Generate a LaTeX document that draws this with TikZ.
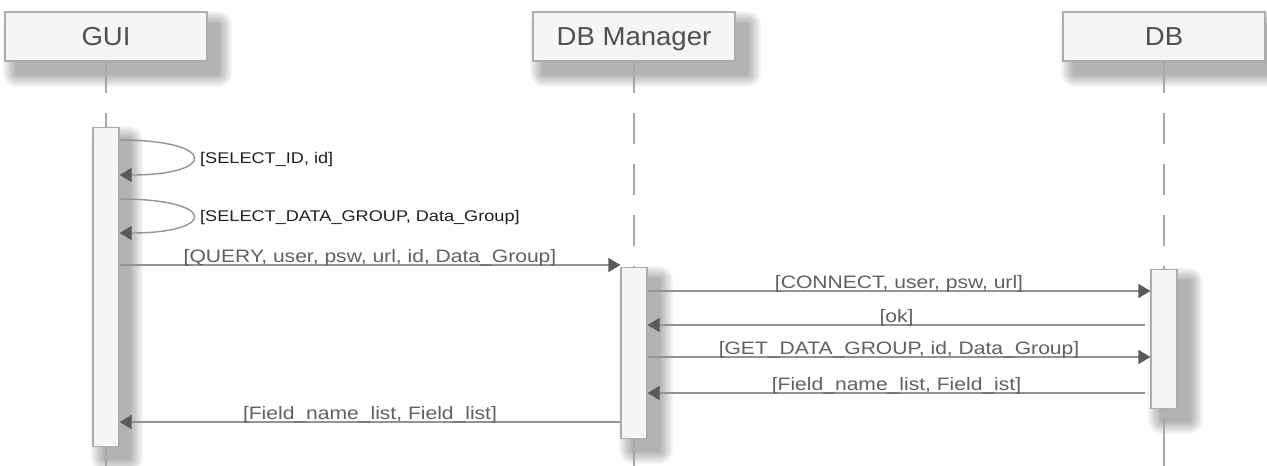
\documentclass[tikz,border=0pt]{standalone}
\usepackage{fontspec}
\setmainfont{Liberation Sans}
\newfontfamily\hdrfont[FakeStretch=1.06]{Liberation Sans}
\newfontfamily\msgfont[FakeStretch=1.17]{Liberation Sans}
\usetikzlibrary{arrows.meta,calc}

\definecolor{boxfill}{HTML}{F5F5F5}
\definecolor{boxline}{HTML}{ADADAD}
\definecolor{hdrtext}{HTML}{505050}
\definecolor{msgtext}{HTML}{606060}
\definecolor{selftext}{HTML}{1E1E1E}
\definecolor{wire}{HTML}{939393}
\definecolor{tipgray}{HTML}{5A5A5A}
\definecolor{lifegray}{HTML}{A8A8A8}

% soft drop shadow falling down and to the right:
% stacked translucent rectangles, each a little larger
\newcommand{\softshade}[4]{%
  \foreach \s in {1,...,10}{%
    \pgfmathsetmacro{\rr}{1.4*\s}
    \fill[black, opacity=0.036, rounded corners=\rr pt]
      (#1+12-\rr, #2+13-\rr) rectangle (#3+11+\rr, #4+12+\rr);
  }}

\tikzset{
  header/.style={draw=boxline, fill=boxfill, line width=1.2pt,
    minimum width=202pt, minimum height=49pt, inner sep=0pt,
    text=hdrtext, font=\hdrfont\fontsize{26}{30}\selectfont,
    text height=18.5pt, text depth=0pt},
  actbar/.style={draw=boxline, fill=boxfill, line width=1.2pt,
    minimum width=26pt, inner sep=0pt, anchor=north},
  life/.style={draw=lifegray, line width=1.5pt},
  lifedash/.style={life, dash pattern=on 31pt off 20pt},
  msg/.style={draw=wire, line width=1.4pt,
    -{Triangle[length=12pt, width=14pt, color=tipgray]}},
  msglbl/.style={anchor=base, yshift=3pt, inner sep=0pt, text=msgtext,
    font=\msgfont\fontsize{18}{21}\selectfont},
  selflbl/.style={anchor=base west, inner sep=0pt, text=selftext,
    font=\msgfont\fontsize{15.5}{18}\selectfont},
}

\begin{document}
\begin{tikzpicture}[x=1pt, y=-1pt]
  \useasboundingbox (0,0) rectangle (1267,466);
  \coordinate (bottom) at (0,466);

  % shadows under headers and activation bars
  \softshade{5}{12}{207}{61}
  \softshade{532}{12}{736}{61}
  \softshade{1063}{12}{1265}{61}
  \softshade{93}{127}{118}{446}
  \softshade{621}{267}{648}{438}
  \softshade{1150}{269}{1178}{408}

  % participants
  \node[header] (gui) at (106,36.5) {GUI};
  \node[header] (dbm) at (634,36.5) {DB Manager};
  \node[header] (db)  at (1164,36.5) {DB};

  % lifelines above the activation bars
  \coordinate (guitop) at (106,127);
  \coordinate (dbmtop) at (634,267);
  \coordinate (dbtop)  at (1164,269);
  \draw[lifedash] (gui.south) -- (guitop);
  \draw[lifedash] (dbm.south) -- (dbmtop);
  \draw[lifedash] (db.south)  -- (dbtop);

  % activation bars
  \node[actbar, minimum height=319pt] (guibar) at (guitop) {};
  \node[actbar, minimum height=171pt] (dbmbar) at (dbmtop) {};
  \node[actbar, minimum height=139pt] (dbbar)  at (dbtop)  {};

  % lifelines below the activation bars
  \draw[life] (guibar.south) -- (guibar.south |- bottom);
  \draw[life] (dbmbar.south) -- (dbmbar.south |- bottom);
  \draw[life, shorten <=9pt] (dbbar.south) -- (dbbar.south |- bottom);

  % message rows
  \coordinate (s1a) at (0,140);
  \coordinate (s1b) at (0,175);
  \coordinate (s2a) at (0,199);
  \coordinate (s2b) at (0,233);
  \coordinate (r1) at (0,265);
  \coordinate (r2) at (0,291);
  \coordinate (r3) at (0,325);
  \coordinate (r4) at (0,357);
  \coordinate (r5) at (0,393);
  \coordinate (r6) at (0,422);
  \coordinate (dbout) at ($(dbbar.west)+(-5,0)$);

  % self messages on the GUI
  \draw[msg] (guibar.east |- s1a) .. controls +(98,0) and +(98,0) .. (guibar.east |- s1b);
  \node[selflbl] (l1) at (200,163) {[SELECT\_ID, id]};
  \draw[msg] (guibar.east |- s2a) .. controls +(98,0) and +(98,0) .. (guibar.east |- s2b);
  \node[selflbl] (l2) at (200,221.5) {[SELECT\_DATA\_GROUP, Data\_Group]};

  % calls between participants
  \draw[msg] (guibar.east |- r1) -- (dbmbar.west |- r1)
    node[midway, msglbl] (l3) {[QUERY, user, psw, url, id, Data\_Group]};
  \draw[msg] (dbmbar.east |- r2) -- (dbbar.west |- r2)
    node[midway, msglbl] (l4) {[CONNECT, user, psw, url]};
  \draw[msg] (dbout |- r3) -- (dbmbar.east |- r3)
    node[midway, msglbl] (l5) {[ok]};
  \draw[msg] (dbmbar.east |- r4) -- (dbbar.west |- r4)
    node[midway, msglbl] (l6) {[GET\_DATA\_GROUP, id, Data\_Group]};
  \draw[msg] (dbout |- r5) -- (dbmbar.east |- r5)
    node[midway, msglbl] (l7) {[Field\_name\_list, Field\_ist]};
  \draw[msg] (dbmbar.west |- r6) -- (guibar.east |- r6)
    node[midway, msglbl] (l8) {[Field\_name\_list, Field\_list]};
\end{tikzpicture}
\end{document}
